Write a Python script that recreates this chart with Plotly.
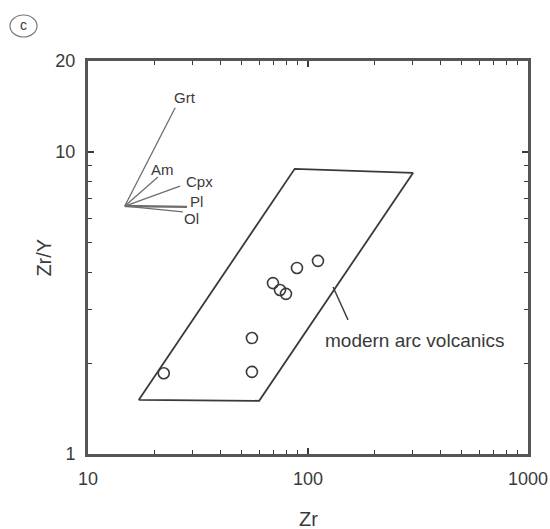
import math
import plotly.graph_objects as go

# Sample data: Zr (ppm) vs Zr/Y
zr = [22.1, 55.6, 55.6, 69.3, 74.6, 79.4, 89.1, 111]
zr_y = [1.85, 2.42, 1.87, 3.68, 3.49, 3.39, 4.13, 4.36]

# Field of modern arc volcanics (closed polygon)
field_zr = [17.0, 60.0, 300.0, 87.0, 17.0]
field_zry = [1.51, 1.50, 8.52, 8.79, 1.51]

# Fractionation vectors from a common origin
vec_origin = (14.7, 6.62)
vec_names = ["Grt", "Am", "Cpx", "Pl", "Ol"]
vec_end_zr = [24.9, 20.8, 26.2, 28.2, 27.0]
vec_end_zry = [14.0, 8.26, 7.71, 6.58, 6.33]
vec_label_zr = [27.6, 21.7, 32.0, 31.0, 29.4]
vec_label_zry = [15.1, 8.72, 7.96, 6.83, 6.04]
vec_width = [1.3, 1.3, 1.3, 2.4, 1.3]

x_major = [10, 100, 1000]
x_minor = [20, 30, 40, 50, 60, 70, 80, 90, 200, 300, 400, 500, 600, 700, 800, 900]
y_major = [1, 10, 20]
y_minor = [2, 3, 4, 5, 6, 7, 8, 9]

ink = "#3a3a3a"
font = "Liberation Sans, Arial, sans-serif"

fig = go.Figure()

fig.add_trace(go.Scatter(
    x=field_zr, y=field_zry, mode="lines",
    line=dict(color=ink, width=1.8), hoverinfo="skip", showlegend=False,
))

for name, ex, ey, w in zip(vec_names, vec_end_zr, vec_end_zry, vec_width):
    fig.add_trace(go.Scatter(
        x=[vec_origin[0], ex], y=[vec_origin[1], ey], mode="lines",
        line=dict(color="#6e6e6e", width=w), name=name, showlegend=False,
    ))

fig.add_trace(go.Scatter(
    x=zr, y=zr_y, mode="markers",
    marker=dict(symbol="circle-open", size=11, color=ink, line=dict(width=1.6)),
    showlegend=False,
))

# Leader line for the field label
fig.add_trace(go.Scatter(
    x=[130, 152], y=[3.57, 2.78], mode="lines",
    line=dict(color=ink, width=1.4), hoverinfo="skip", showlegend=False,
))

# Annotations on log axes take log10 positions
for name, lx, ly in zip(vec_names, vec_label_zr, vec_label_zry):
    fig.add_annotation(x=math.log10(lx), y=math.log10(ly), xref="x", yref="y",
                       text=name, showarrow=False,
                       font=dict(family=font, size=15, color=ink))

fig.add_annotation(x=math.log10(306), y=math.log10(2.38), xref="x", yref="y",
                   text="modern arc volcanics", showarrow=False,
                   font=dict(family=font, size=19, color=ink))

# Axis titles
fig.add_annotation(x=0.5, y=-0.166, xref="paper", yref="paper", text="Zr",
                   showarrow=False, yanchor="middle",
                   font=dict(family=font, size=20, color=ink))
fig.add_annotation(x=-0.102, y=0.50, xref="paper", yref="paper", text="Zr/Y",
                   showarrow=False, textangle=-90, xanchor="center", yanchor="middle",
                   font=dict(family=font, size=20, color=ink))

# Panel label
fig.add_annotation(x=-0.1466, y=1.0916, xref="paper", yref="paper", text="c",
                   showarrow=False, xanchor="center", yanchor="middle",
                   font=dict(family=font, size=14, color=ink))
fig.add_shape(type="circle", xref="paper", yref="paper",
              x0=-0.1773, x1=-0.1159, y0=1.0611, y1=1.1170,
              line=dict(color="#777", width=1.2))

axis_common = dict(
    type="log", showgrid=False, zeroline=False, automargin=False,
    showline=True, linecolor="#555", linewidth=3, mirror="allticks",
    ticks="inside", ticklen=6, tickwidth=1.5, tickcolor=ink,
    tickfont=dict(family=font, size=18, color=ink),
)

fig.update_xaxes(
    range=[1, 3], tickvals=x_major, ticktext=[str(v) for v in x_major],
    minor=dict(tickvals=x_minor, ticks="inside", ticklen=4, tickwidth=1.2, tickcolor=ink),
    ticklabelstandoff=6, **axis_common,
)
fig.update_yaxes(
    range=[0, 1.30103], tickvals=y_major, ticktext=[str(v) for v in y_major],
    minor=dict(tickvals=y_minor, ticks="inside", ticklen=4, tickwidth=1.2, tickcolor=ink),
    ticklabelstandoff=6, **axis_common,
)

fig.update_layout(
    width=550, height=529,
    margin=dict(l=88, r=22, t=61, b=75),
    paper_bgcolor="white", plot_bgcolor="white",
)

fig.write_html("out.html")
